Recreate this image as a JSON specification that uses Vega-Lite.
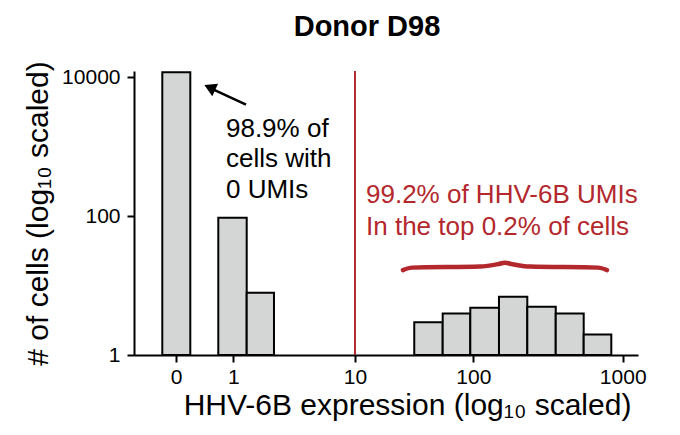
{
  "$schema": "https://vega.github.io/schema/vega-lite/v6.json",
  "width": 504,
  "height": 284,
  "autosize": {"type": "none"},
  "padding": {"left": 134, "top": 71, "right": 42, "bottom": 80},
  "background": "white",
  "title": {"text": "Donor D98", "fontSize": 29, "fontWeight": "bold", "font": "Liberation Sans", "color": "black", "dx": -19, "dy": 4, "offset": 23},
  "config": {
    "view": {"stroke": null},
    "font": "Liberation Sans",
    "axis": {"grid": false, "domainColor": "black", "domainWidth": 2, "tickColor": "black", "tickWidth": 2, "tickSize": 7, "labelColor": "black", "labelFontSize": 21, "titleColor": "black", "titleFontSize": 30, "titleFontWeight": "normal", "labelFont": "Liberation Sans", "titleFont": "Liberation Sans"}
  },
  "datasets": {
    "bars": [
      {"lo": -0.5917, "hi": -0.3583, "cells": 11750},
      {"lo": -0.125, "hi": 0.1117, "cells": 94},
      {"lo": 0.1117, "hi": 0.339, "cells": 7.85},
      {"lo": 1.508, "hi": 1.745, "cells": 2.95},
      {"lo": 1.745, "hi": 1.975, "cells": 3.97},
      {"lo": 1.975, "hi": 2.214, "cells": 4.78},
      {"lo": 2.214, "hi": 2.45, "cells": 6.88},
      {"lo": 2.45, "hi": 2.687, "cells": 4.94},
      {"lo": 2.687, "hi": 2.92, "cells": 3.97},
      {"lo": 2.92, "hi": 3.15, "cells": 1.98}
    ],
    "brace": [
      {"u": 1.414, "v": 16.65, "o": 1},
      {"u": 1.489, "v": 18.08, "o": 2},
      {"u": 2.056, "v": 18.69, "o": 3},
      {"u": 2.206, "v": 20.3, "o": 4},
      {"u": 2.264, "v": 21.33, "o": 5},
      {"u": 2.323, "v": 20.3, "o": 6},
      {"u": 2.473, "v": 18.69, "o": 7},
      {"u": 3.039, "v": 18.08, "o": 8},
      {"u": 3.114, "v": 16.65, "o": 9}
    ],
    "notesBlack": [
      {"u": -0.061, "v": 1766, "t": "98.9% of"},
      {"u": -0.061, "v": 655, "t": "cells with"},
      {"u": -0.061, "v": 240, "t": "0 UMIs"}
    ],
    "notesRed": [
      {"u": 1.106, "v": 199, "t": "99.2% of HHV-6B UMIs"},
      {"u": 1.106, "v": 69.7, "t": "In the top 0.2% of cells"}
    ],
    "arrow": [
      {"u0": 0.106, "v0": 4000, "u1": -0.1775, "v1": 6745}
    ],
    "arrowHead": [
      {"u": -0.196, "v": 7050}
    ],
    "cutoff": [
      {"u": 1.014}
    ]
  },
  "layer": [
    {
      "data": {"name": "bars"},
      "mark": {"type": "rect", "fill": "#d4d6d6", "stroke": "black", "strokeWidth": 2},
      "encoding": {
        "x": {"field": "lo", "type": "quantitative", "scale": {"domain": [-0.8275, 3.3725], "nice": false, "zero": false},
          "axis": {"values": [-0.4775, 0, 1.014, 2.0, 3.245], "labelExpr": "datum.value < -0.1 ? '0' : datum.value < 0.5 ? '1' : datum.value < 1.5 ? '10' : datum.value < 2.5 ? '100' : '1000'", "labelPadding": 4, "title": "HHV-6B expression (log₁₀ scaled)", "titlePadding": 3, "titleX": 273}},
        "x2": {"field": "hi"},
        "y": {"field": "cells", "type": "quantitative", "scale": {"type": "log", "domain": [1, 12200], "nice": false},
          "axis": {"values": [1, 100, 10000], "labelExpr": "format(datum.value, 'd')", "labelPadding": 7, "title": "# of cells (log₁₀ scaled)", "titlePadding": 8}},
        "y2": {"datum": 1}
      }
    },
    {
      "data": {"name": "cutoff"},
      "mark": {"type": "rule", "color": "#b3282d", "strokeWidth": 2},
      "encoding": {"x": {"field": "u", "type": "quantitative"}}
    },
    {
      "data": {"name": "brace"},
      "mark": {"type": "line", "color": "#b3282d", "strokeWidth": 4.5, "strokeCap": "round", "interpolate": "monotone"},
      "encoding": {
        "x": {"field": "u", "type": "quantitative"},
        "y": {"field": "v", "type": "quantitative"},
        "order": {"field": "o"}
      }
    },
    {
      "data": {"name": "arrow"},
      "mark": {"type": "rule", "color": "black", "strokeWidth": 2.5},
      "encoding": {
        "x": {"field": "u0", "type": "quantitative"},
        "x2": {"field": "u1"},
        "y": {"field": "v0", "type": "quantitative"},
        "y2": {"field": "v1"}
      }
    },
    {
      "data": {"name": "arrowHead"},
      "mark": {"type": "point", "shape": "triangle-up", "filled": true, "color": "black", "opacity": 1, "size": 190, "angle": 295},
      "encoding": {
        "x": {"field": "u", "type": "quantitative"},
        "y": {"field": "v", "type": "quantitative"}
      }
    },
    {
      "data": {"name": "notesBlack"},
      "mark": {"type": "text", "align": "left", "baseline": "middle", "fontSize": 26, "color": "black"},
      "encoding": {
        "x": {"field": "u", "type": "quantitative"},
        "y": {"field": "v", "type": "quantitative"},
        "text": {"field": "t"}
      }
    },
    {
      "data": {"name": "notesRed"},
      "mark": {"type": "text", "align": "left", "baseline": "middle", "fontSize": 26, "color": "#b3282d"},
      "encoding": {
        "x": {"field": "u", "type": "quantitative"},
        "y": {"field": "v", "type": "quantitative"},
        "text": {"field": "t"}
      }
    }
  ]
}
